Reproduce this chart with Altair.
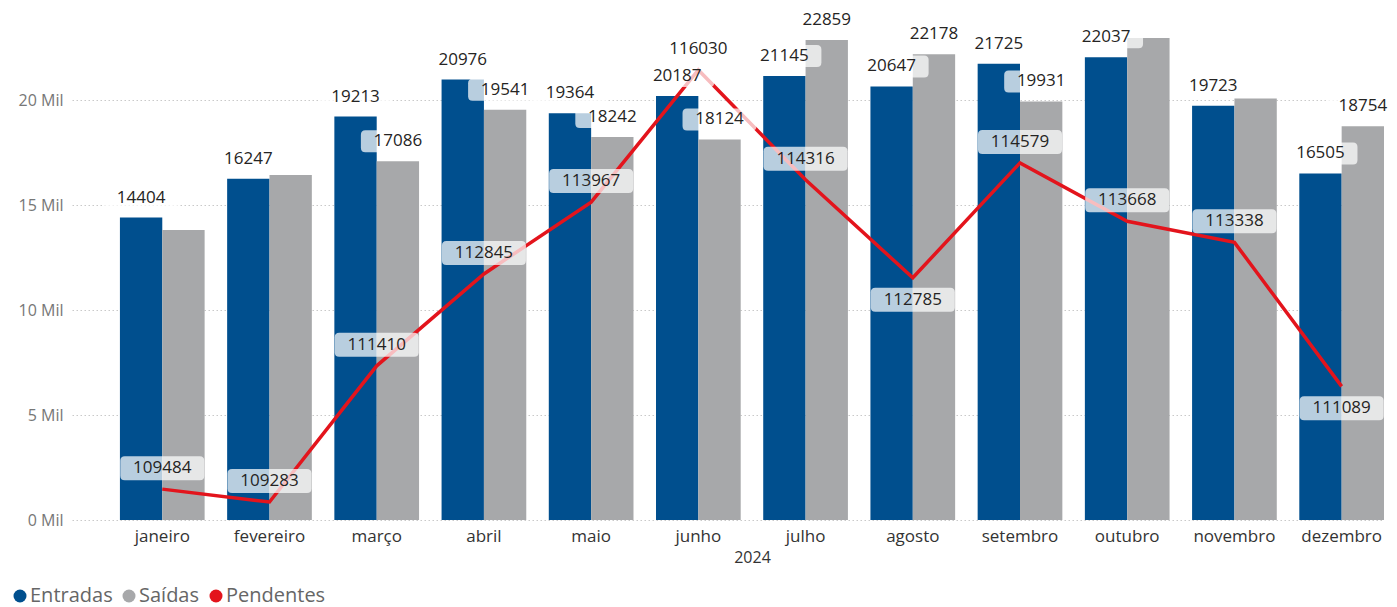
import altair as alt
import pandas as pd

# ---------------- data ----------------
meses = ["janeiro", "fevereiro", "março", "abril", "maio", "junho",
         "julho", "agosto", "setembro", "outubro", "novembro", "dezembro"]
entradas = [14404, 16247, 19213, 20976, 19364, 20187, 21145, 20647, 21725, 22037, 19723, 16505]
saidas = [13810, 16430, 17086, 19541, 18242, 18124, 22859, 22178, 19931, 22950, 20070, 18754]
pendentes = [109484, 109283, 111410, 112845, 113967, 116030, 114316, 112785, 114579, 113668, 113338, 111089]
saidas_rotulo_visivel = [False, False, True, True, True, True, True, True, True, False, False, True]
pendentes_rotulo_posicao = ["acima", "acima", "acima", "acima", "acima", "acima",
                            "acima", "abaixo", "acima", "acima", "acima", "abaixo"]
series = ["Entradas", "Saídas", "Pendentes"]
eixo_y_valores = [0, 5000, 10000, 15000, 20000]
ano = "2024"

# ---------------- styling ----------------
FONT = "Segoe UI, Open Sans"
AZUL = "#004f8e"
CINZA = "#a7a8aa"
VERMELHO = "#e3141c"
TEXTO = "#252423"

rows = []
for i, m in enumerate(meses):
    rows.append({"mes": m, "serie": "Entradas", "valor": entradas[i], "visivel": True})
    rows.append({"mes": m, "serie": "Saídas", "valor": saidas[i], "visivel": saidas_rotulo_visivel[i]})
df_barras = pd.DataFrame(rows)
df_rot = df_barras[df_barras["visivel"]].copy()

df_linha = pd.DataFrame({"mes": meses, "pendentes": pendentes, "posicao": pendentes_rotulo_posicao})


def caixa(w2, h2, r):
    return (f"M{-w2 + r},{-h2} L{w2 - r},{-h2} Q{w2},{-h2} {w2},{-h2 + r} "
            f"L{w2},{h2 - r} Q{w2},{h2} {w2 - r},{h2} L{-w2 + r},{h2} "
            f"Q{-w2},{h2} {-w2},{h2 - r} L{-w2},{-h2 + r} Q{-w2},{-h2} {-w2 + r},{-h2} Z")


CAIXA_BARRA = caixa(0.74, 0.22, 0.09)
CAIXA_PEND = caixa(0.84, 0.24, 0.09)

x_enc = alt.X(
    "mes:N", sort=meses, title=ano,
    scale=alt.Scale(paddingInner=0.21, paddingOuter=0.2235, align=1),
    axis=alt.Axis(labelAngle=0, labelFontSize=17, labelColor="#333333", labelFont=FONT,
                  labelPadding=8, ticks=False, domain=False, grid=False,
                  titleFontSize=16, titleFont=FONT, titleFontWeight="normal",
                  titleColor="#333333", titlePadding=5, titleX=680),
)
xoff_enc = alt.XOffset("serie:N", sort=["Entradas", "Saídas"],
                       scale=alt.Scale(domain=["Entradas", "Saídas"], paddingInner=0, paddingOuter=0))

y_esc = alt.Scale(domain=[0, 24286], nice=False, zero=True)
y2_esc = alt.Scale(domain=[109002, 116967], nice=False, zero=False)

barras = alt.Chart(df_barras).mark_bar().encode(
    x=x_enc,
    xOffset=xoff_enc,
    y=alt.Y("valor:Q", scale=y_esc,
            axis=alt.Axis(values=eixo_y_valores, labelExpr="datum.value / 1000 + ' Mil'",
                          title=None, grid=True, gridDash=[1.5, 2.5], gridColor="#c9c9c9",
                          ticks=False, domain=False, labelFontSize=16, labelColor="#777777",
                          labelFont=FONT, labelPadding=9)),
    color=alt.Color("serie:N", scale=alt.Scale(domain=series, range=[AZUL, CINZA, VERMELHO]),
                    legend=alt.Legend(orient="none", legendX=-62, legendY=576, direction="horizontal",
                                      columns=3, title=None, symbolType="circle", symbolSize=169,
                                      symbolStrokeWidth=0, labelFontSize=20, labelFont=FONT,
                                      labelColor="#666666", columnPadding=6, labelOffset=0,
                                      padding=0)),
)

linha = alt.Chart(df_linha).mark_line(color=VERMELHO, strokeWidth=3.5).encode(
    x=x_enc,
    y=alt.Y("pendentes:Q", scale=y2_esc, axis=None),
)

caixa_barras = alt.Chart(df_rot).mark_point(
    shape=CAIXA_BARRA, size=10000, filled=True, color="white", opacity=0.72,
    strokeWidth=0, yOffset=-20,
).encode(x=x_enc, xOffset=xoff_enc, y=alt.Y("valor:Q", scale=y_esc, axis=None))

texto_barras = alt.Chart(df_rot).mark_text(
    dy=-20, fontSize=17, font=FONT, color=TEXTO, baseline="middle",
).encode(x=x_enc, xOffset=xoff_enc, y=alt.Y("valor:Q", scale=y_esc, axis=None),
         text=alt.Text("valor:Q", format="d"))

caixas_p = []
textos_p = []
for pos, off in (("acima", -21), ("abaixo", 22)):
    base = alt.Chart(df_linha).transform_filter(alt.datum.posicao == pos)
    caixas_p.append(base.mark_point(
        shape=CAIXA_PEND, size=10000, filled=True, color="white", opacity=0.72,
        strokeWidth=0, yOffset=off,
    ).encode(x=x_enc, y=alt.Y("pendentes:Q", scale=y2_esc, axis=None)))
    textos_p.append(base.mark_text(
        dy=off, fontSize=17, font=FONT, color=TEXTO, baseline="middle",
    ).encode(x=x_enc, y=alt.Y("pendentes:Q", scale=y2_esc, axis=None),
             text=alt.Text("pendentes:Q", format="d")))

chart = alt.layer(
    barras, linha, caixa_barras, *caixas_p, texto_barras, *textos_p
).resolve_scale(y="independent").properties(
    width=1312, height=510,
    autosize=alt.AutoSizeParams(type="none"),
    padding={"left": 64, "top": 2, "right": 4, "bottom": 89},
).configure_view(stroke=None)

chart.save("out.html", embed_options={"renderer": "svg", "actions": False})
